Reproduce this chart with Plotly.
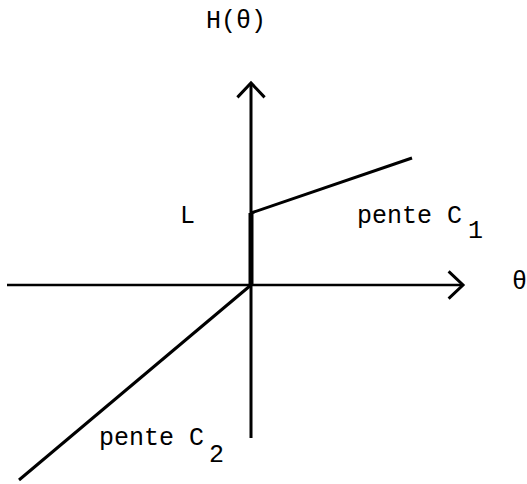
import plotly.graph_objects as go

# ---- schematic data (abstract units; origin = (0, 0)) ----
theta_axis = [-6.1, 5.3]          # horizontal axis extent (theta)
H_axis = [-3.825, 5.05]           # vertical axis extent H(theta)
L_value = 1.8                     # jump L at theta = 0
theta_c1 = [0.0, 4.025]           # branch with slope C1 (theta > 0)
H_c1 = [1.8, 3.175]
theta_c2 = [-5.8, 0.0]            # branch with slope C2 (theta < 0)
H_c2 = [-4.875, 0.0]

labels = {
    "H": "H(θ)",
    "theta": "θ",
    "L": "L",
    "c1": "pente C",
    "c1_sub": "1",
    "c2": "pente C",
    "c2_sub": "2",
}

FONT = dict(family="Liberation Mono, Courier New, monospace", size=25, color="black")
W, H = 527, 484
UNIT = 40.0                  # px per unit
X0, Y0 = 251, 285            # origin in page pixels

fig = go.Figure()

def line(xs, ys, width):
    fig.add_trace(go.Scatter(x=xs, y=ys, mode="lines",
                             line=dict(color="black", width=width),
                             hoverinfo="skip", showlegend=False))

# axes
line(theta_axis, [0, 0], 2.5)
line([0, 0], H_axis, 3)

# arrowheads (chevrons) at the axis tips
back, side = 0.36, 0.34
tx = theta_axis[1]
line([tx - back, tx, tx - back], [side, 0, -side], 3)
ty = H_axis[1]
line([-side, 0, side], [ty - back, ty, ty - back], 3)

# curve H(theta)
line(theta_c2, H_c2, 3)
line([0, 0], [0, L_value], 5)
line(theta_c1, H_c1, 3)

def px_x(p):
    return (p - X0) / UNIT

def px_y(p):
    return (Y0 - p) / UNIT

ann = [
    (labels["H"], px_x(236), px_y(21), "center"),
    (labels["theta"], px_x(519), px_y(282), "center"),
    (labels["L"], px_x(187.5), px_y(216.5), "center"),
    (labels["c1"], px_x(355), px_y(216.5), "left"),
    (labels["c1_sub"], px_x(475), px_y(231), "center"),
    (labels["c2"], px_x(97), px_y(438.5), "left"),
    (labels["c2_sub"], px_x(216.5), px_y(455), "center"),
]
for text, x, y, xa in ann:
    fig.add_annotation(x=x, y=y, text=text, showarrow=False, xanchor=xa,
                       yanchor="middle", font=FONT)

fig.update_layout(
    width=W, height=H, autosize=False,
    margin=dict(l=0, r=0, t=0, b=0),
    paper_bgcolor="white", plot_bgcolor="white",
    xaxis=dict(range=[-X0 / UNIT, (W - X0) / UNIT],
               visible=False, fixedrange=True),
    yaxis=dict(range=[(Y0 - H) / UNIT, Y0 / UNIT],
               visible=False, fixedrange=True),
    showlegend=False,
)

fig.write_html(
    "out.html",
    config={"displayModeBar": False},
    post_script="document.body.style.margin='0px';document.body.style.overflow='hidden';",
)
